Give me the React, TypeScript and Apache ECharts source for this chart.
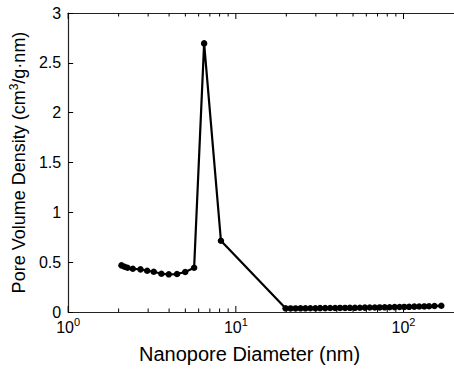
import React, { useEffect, useRef } from "react";
import * as echarts from "echarts";

const diameters = [
  2.08, 2.17, 2.26, 2.43, 2.7, 2.96, 3.24, 3.6, 3.98, 4.46, 4.99, 5.64, 6.47, 8.15,
  19.8, 21.2, 22.7, 24.3, 26.0, 27.8, 29.8, 31.8, 34.1, 36.5, 39.1, 41.8, 44.8, 47.9,
  51.3, 54.9, 58.8, 62.9, 67.4, 72.1, 77.2, 82.6, 88.5, 94.7, 101, 108, 116, 124, 133,
  142, 153, 168,
];
const densities = [
  0.468, 0.454, 0.444, 0.434, 0.428, 0.414, 0.404, 0.384, 0.378, 0.381, 0.401, 0.444,
  2.695, 0.715,
  0.037, 0.036, 0.036, 0.037, 0.037, 0.038, 0.038, 0.039, 0.039, 0.04, 0.04, 0.041,
  0.041, 0.042, 0.042, 0.043, 0.044, 0.045, 0.045, 0.046, 0.047, 0.048, 0.049, 0.05,
  0.051, 0.052, 0.054, 0.055, 0.056, 0.058, 0.06, 0.063,
];
const majorTicks = [1, 10, 100];
const minorTicks = [2, 3, 4, 5, 6, 7, 8, 9, 20, 30, 40, 50, 60, 70, 80, 90];
const xMin = 1;
const xMax = 200;
const yMin = 0;
const yMax = 3;
const yStep = 0.5;

const FONT = "Liberation Sans, Arial, Helvetica, sans-serif";

export default function App() {
  const ref = useRef<HTMLDivElement>(null);
  useEffect(() => {
    if (!ref.current) return;
    const chart = echarts.init(ref.current, null, { renderer: "svg" });
    const tickData = [
      ...majorTicks.map((v) => [v, 1]),
      ...minorTicks.map((v) => [v, 0]),
    ];
    chart.setOption({
      animation: false,
      backgroundColor: "#fff",
      grid: { left: 67, top: 13, bottom: 58, right: -2, containLabel: false },
      xAxis: [
        {
          type: "log",
          logBase: 10,
          min: xMin,
          max: xMax,
          position: "bottom",
          splitLine: { show: false },
          axisTick: { show: false },
          axisLine: { show: true, lineStyle: { color: "#222", width: 1.2 } },
          axisLabel: {
            showMaxLabel: false,
            margin: 7,
            formatter: (v: number) => {
              const e = Math.log10(v);
              if (Math.abs(e - Math.round(e)) > 1e-6) return "";
              return "{b|10}{s|" + Math.round(e) + "}";
            },
            rich: {
              b: { fontSize: 16, lineHeight: 16, color: "#000", fontFamily: FONT },
              s: {
                fontSize: 11,
                lineHeight: 11,
                color: "#000",
                fontFamily: FONT,
                verticalAlign: "bottom",
                padding: [0, 0, 8, 0],
              },
            },
          },
          name: "Nanopore Diameter (nm)",
          nameLocation: "middle",
          nameGap: 32,
          nameTextStyle: {
            fontSize: 20,
            color: "#000",
            fontFamily: FONT,
            padding: [0, 23, 0, 0],
          },
        },
        {
          type: "log",
          logBase: 10,
          min: xMin,
          max: xMax,
          position: "top",
          splitLine: { show: false },
          axisTick: { show: false },
          axisLabel: { show: false },
          axisLine: { show: true, lineStyle: { color: "#222", width: 1.2 } },
        },
      ],
      yAxis: {
        type: "value",
        min: yMin,
        max: yMax,
        interval: yStep,
        splitLine: { show: false },
        axisLine: { show: true, lineStyle: { color: "#222", width: 1.2 } },
        axisTick: { show: true, inside: true, length: 5, lineStyle: { color: "#000" } },
        axisLabel: {
          margin: 7,
          fontSize: 16,
          color: "#000",
          fontFamily: FONT,
          formatter: (v: number) => String(v),
        },
        name: "{a|Pore Volume Density (cm}{s|3}{a|/g·nm)}",
        nameLocation: "middle",
        nameGap: 36,
        nameTextStyle: {
          rich: {
            a: { fontSize: 18, color: "#000", fontFamily: FONT, lineHeight: 18 },
            s: {
              fontSize: 12,
              color: "#000",
              fontFamily: FONT,
              lineHeight: 12,
              verticalAlign: "bottom",
              padding: [0, 0, 8, 0],
            },
          },
        },
      },
      series: [
        {
          type: "custom",
          xAxisIndex: 0,
          yAxisIndex: 0,
          silent: true,
          data: tickData,
          renderItem: (params: any, api: any) => {
            const x = api.value(0);
            const len = api.value(1) ? 6 : 3.5;
            const b = api.coord([x, yMin]);
            const t = api.coord([x, yMax]);
            return {
              type: "group",
              children: [
                {
                  type: "line",
                  shape: { x1: b[0], y1: b[1], x2: b[0], y2: b[1] - len },
                  style: { stroke: "#000", lineWidth: 1 },
                },
                {
                  type: "line",
                  shape: { x1: t[0], y1: t[1], x2: t[0], y2: t[1] + len },
                  style: { stroke: "#000", lineWidth: 1 },
                },
              ],
            };
          },
          z: 1,
        },
        {
          type: "line",
          xAxisIndex: 0,
          yAxisIndex: 0,
          data: diameters.map((d, i) => [d, densities[i]]),
          symbol: "circle",
          symbolSize: 6.5,
          showAllSymbol: true,
          lineStyle: { color: "#000", width: 2.2 },
          itemStyle: { color: "#000" },
          z: 3,
        },
      ],
    });
    return () => chart.dispose();
  }, []);
  return (
    <div
      ref={ref}
      style={{ position: "fixed", left: 0, top: 0, width: 454, height: 370, background: "#fff" }}
    />
  );
}
